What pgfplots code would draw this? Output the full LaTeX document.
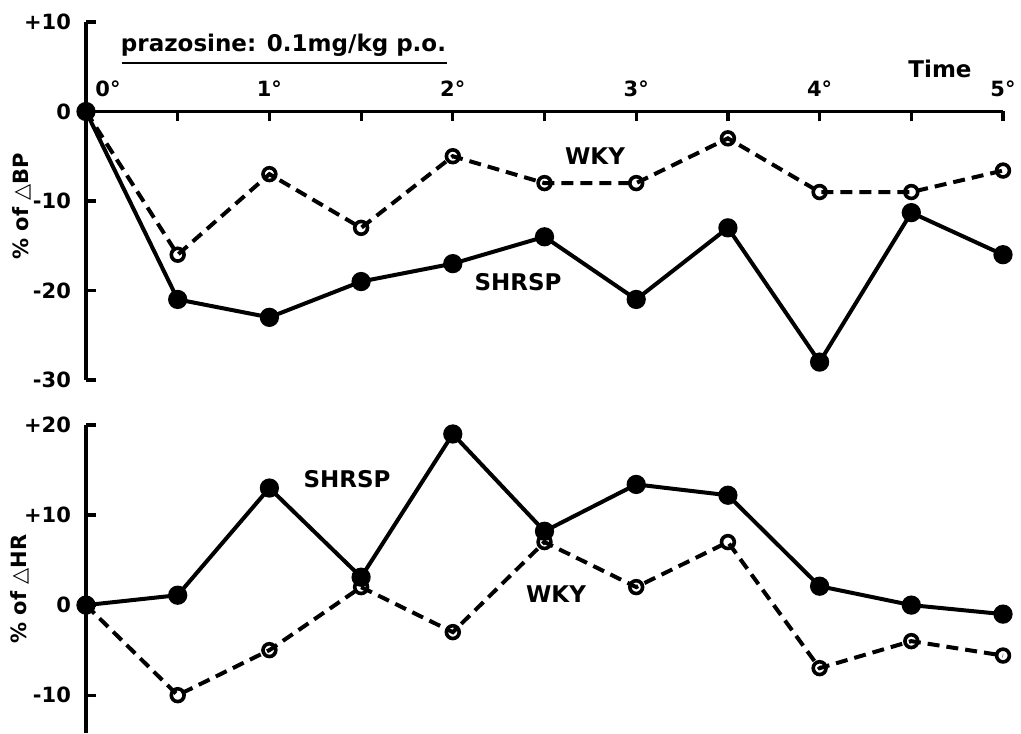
\documentclass[border=0pt]{standalone}
\usepackage{fontspec}
\setmainfont{DejaVu Sans}
\usepackage{pgfplots}
\pgfplotsset{compat=1.18}
\pgfplotstableread{
t bpS bpW hrS hrW
0   0     0     0     0
0.5 -21   -16   1.1   -10
1   -23   -7    13    -5
1.5 -19   -13   3.1   2
2   -17   -5    19    -3
2.5 -14   -8    8.2   7
3   -21   -8    13.4  2
3.5 -13   -3    12.2  7
4   -28   -9    2.1   -7
4.5 -11.3 -9    0     -4
5   -16   -6.6  -1    -5.6
}\data
\pgfplotsset{
  base/.style={
    scale only axis, clip=false,
    width=458.5pt, xmin=0, xmax=5,
    axis line style={line width=1.8pt},
    tick style={line width=1.6pt, black},
    major tick length=5pt,
    tick align=outside,
    every tick label/.append style={font=\bfseries\fontsize{10.5}{12}\selectfont},
    y tick style={xshift=5pt},
    yticklabel style={xshift=1pt},
  },
  shr/.style={black, line width=2pt, mark=*, mark size=3.8pt, mark options={solid, fill=black}},
  wky/.style={black, line width=2pt, dash pattern=on 6pt off 3.5pt, mark=o, mark size=3.2pt, mark options={solid, fill=white, line width=1.8pt}},
}
\begin{document}
\begin{tikzpicture}
\useasboundingbox (0,0) rectangle (510.5pt,366.5pt);
\begin{axis}[base,
  at={(43pt,176.5pt)}, anchor=south west,
  height=179pt, ymin=-30, ymax=10,
  axis x line*=middle, axis y line*=left,
  xtick={0,0.5,...,5},
  xticklabels={,,1°,,2°,,3°,,4°,,5°},
  xticklabel style={anchor=south, yshift=9pt},
  extra x ticks={0.12}, extra x tick labels={0°},
  extra x tick style={tick style={draw=none}},
  ytick={-30,-20,-10,0,10},
  yticklabels={-30,-20,-10,0,+10},
]
\addplot[wky] table[x=t, y=bpW] {\data};
\addplot[shr] table[x=t, y=bpS] {\data};
\end{axis}
\begin{axis}[base,
  at={(43pt,0pt)}, anchor=south west,
  height=154pt, ymin=-14.2, ymax=20,
  axis x line=none, axis y line*=left,
  ytick={-10,0,10,20},
  yticklabels={-10,0,+10,+20},
]
\addplot[wky] table[x=t, y=hrW] {\data};
\addplot[shr] table[x=t, y=hrS] {\data};
\end{axis}
\begin{scope}[every node/.style={font=\bfseries\fontsize{11.5}{13}\selectfont, inner sep=0pt}]
\node (pz) at (141.75pt,344pt) {prazosine: 0.1mg/kg p.o.};
\draw[line width=1.4pt] (61pt,335pt) -- (223.5pt,335pt);
\node at (470pt,332pt) {Time};
\node at (297.5pt,288.5pt) {WKY};
\node at (259pt,225.5pt) {SHRSP};
\node at (173.5pt,127pt) {SHRSP};
\node at (278pt,69.5pt) {WKY};
\node[rotate=90, font=\bfseries\fontsize{10.5}{12}\selectfont] at (11pt,263.5pt) {\% of △BP};
\node[rotate=90, font=\bfseries\fontsize{10.5}{12}\selectfont] at (10pt,72pt) {\% of △HR};
\end{scope}
\end{tikzpicture}
\end{document}
